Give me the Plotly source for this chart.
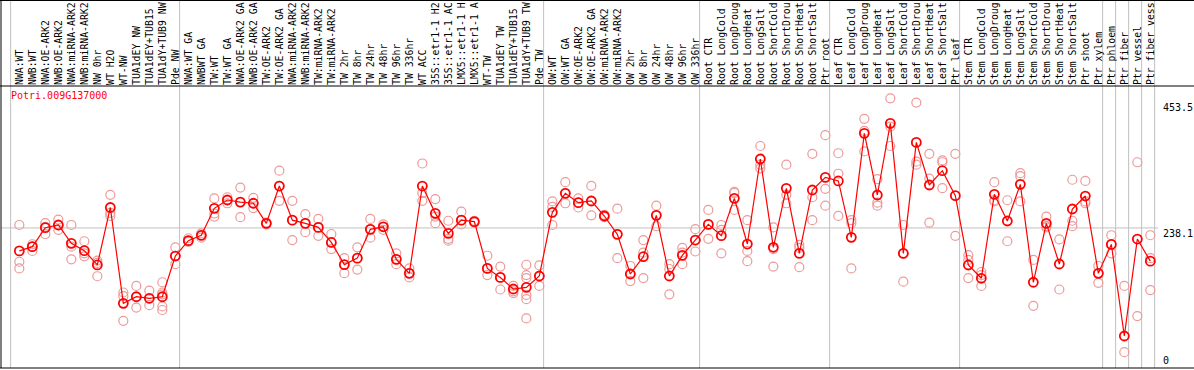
import plotly.graph_objects as go

title = "Potri.009G137000"

categories = [
    "NWA:WT", "NWB:WT", "NWA:OE-ARK2", "NWB:OE-ARK2", "NWA:miRNA-ARK2", "NWB:miRNA-ARK2",
    "NW 0hr", "WT H2O", "WT-NW", "TUA1dEY NW", "TUA1dEY+TUB15", "TUA1dY+TUB9 NW", "Pde NW",
    "NWA:WT GA", "NWBWT GA", "TW:WT", "TW:WT GA", "NWA:OE-ARK2 GA", "NWB:OE-ARK2 GA",
    "TW:OE-ARK2", "TW:OE-ARK2 GA", "NWA:miRNA-ARK2", "NWB:miRNA-ARK2", "TW:miRNA-ARK2",
    "TW:miRNA-ARK2", "TW 2hr", "TW 8hr", "TW 24hr", "TW 48hr", "TW 96hr", "TW 336hr",
    "WT ACC", "35S::etr1-1 H2", "35S::etr1-1 AC", "LMX5::etr1-1 H", "LMX5::etr1-1 A",
    "WT-TW", "TUA1dEY TW", "TUA1dEY+TUB15", "TUA1dY+TUB9 TW", "Pde TW",
    "OW:WT", "OW:WT GA", "OW:OE-ARK2", "OW:OE-ARK2 GA", "OW:miRNA-ARK2", "OW:miRNA-ARK2",
    "OW 2hr", "OW 8hr", "OW 24hr", "OW 48hr", "OW 96hr", "OW 336hr",
    "Root CTR", "Root LongCold", "Root LongDroug", "Root LongHeat", "Root LongSalt",
    "Root ShortCold", "Root ShortDrou", "Root ShortHeat", "Root ShortSalt", "Ptr root",
    "Leaf CTR", "Leaf LongCold", "Leaf LongDroug", "Leaf LongHeat", "Leaf LongSalt",
    "Leaf ShortCold", "Leaf ShortDrou", "Leaf ShortHeat", "Leaf ShortSalt", "Ptr leaf",
    "Stem CTR", "Stem LongCold", "Stem LongDroug", "Stem LongHeat", "Stem LongSalt",
    "Stem ShortCold", "Stem ShortDrou", "Stem ShortHeat", "Stem ShortSalt", "Ptr shoot",
    "Ptr xylem", "Ptr phloem", "Ptr fiber", "Ptr vessel", "Ptr fiber vess",
]

means = [
    200, 207, 238.5, 243, 212.6, 200.4, 176.7, 272, 113, 124, 121.4, 124, 191.5,
    217, 225.8, 270.6, 284.4, 281, 279, 245.7, 307.6, 251, 245.7, 239, 214, 177.2, 188,
    235.8, 240, 186, 162.8, 307.6, 262.3, 229, 251, 248.5, 171, 156, 136.8, 139.6, 158.4,
    264, 295.5, 280, 282.8, 257.9, 227.5, 161.7, 190.4, 259, 158.4, 192.6, 218,
    244, 225.3, 287.2, 211.4, 352.4, 206, 303.8, 196, 301, 322,
    316, 222.5, 395, 292.7, 411.6, 196, 380, 309.3, 333, 291.6,
    176.6, 154.6, 293.8, 249.6, 310.4, 148, 245.7, 178.3, 269.5, 291,
    162.8, 210.8, 58.9, 219.7, 183,
]

replicates = [
    [243, 182, 171], [211, 207, 200], [246, 240, 228], [252, 243, 235], [243, 207, 186],
    [216, 196, 191], [184, 180, 158], [293, 263, 258], [131, 125, 84], [142, 124, 106],
    [134, 121, 110], [148, 131, 128, 108, 102], [206, 192, 178],
    [221, 217, 215], [229, 226, 222], [287, 262, 257], [289, 284, 279], [305, 281, 256],
    [288, 279, 271], [247, 246, 244], [333, 308, 283], [283, 251, 218], [261, 246, 231],
    [253, 239, 225], [228, 214, 203], [188, 177, 163], [206, 188, 169], [253, 236, 222],
    [244, 240, 235], [196, 186, 178], [171, 163, 156], [345, 296, 283], [286, 257, 246],
    [250, 220, 217], [265, 251, 244], [250, 248, 247], [192, 171, 160], [174, 156, 136],
    [142, 133, 130], [177, 160, 155, 127, 120, 88], [176, 158, 142],
    [282, 273, 243], [314, 296, 279], [287, 280, 272], [308, 283, 259], [260, 258, 256],
    [270, 228, 188], [175, 162, 150], [218, 197, 155], [275, 259, 241], [178, 170, 128],
    [205, 197, 178], [236, 218, 199],
    [268, 244, 220], [243, 235, 196], [298, 296, 268], [251, 200, 183], [374, 343, 337],
    [239, 203, 174], [343, 293, 279], [210, 205, 173], [361, 289, 251], [392, 303, 275],
    [362, 328, 258], [251, 246, 171], [419, 399, 365], [319, 280, 275], [453, 406, 374],
    [243, 196, 149], [446, 348, 343], [361, 320, 247], [350, 347, 304], [361, 225],
    [193, 185, 155], [165, 160, 142], [314, 284, 282], [284, 216], [329, 324, 282],
    [185, 109], [257, 241, 239], [219, 136], [318, 250, 241], [316, 282, 279],
    [175, 163, 147], [226, 211, 196], [142, 32, 3], [347, 92], [226, 188, 135],
]

# last category index of each group (0 = before the first)
group_ends = [0, 13, 41, 53, 63, 73, 84, 85, 86, 87, 88]

axis_labels = [453.5, 238.1, 0]

xs = list(range(1, len(categories) + 1))
rep_x, rep_y = [], []
for xi, vals in zip(xs, replicates):
    for v in vals:
        rep_x.append(xi)
        rep_y.append(v)

W, H = 1194, 370
ml, mr, mt, mb = 1, 36, 86, 2
ph = H - mt - mb
pw = W - ml - mr
yr = [5.8, 473.5]

fig = go.Figure()
fig.add_trace(go.Scatter(
    x=rep_x, y=rep_y, mode="markers", cliponaxis=False,
    marker=dict(symbol="circle-open", size=9, color="#ec9a9a", line=dict(width=1.2)),
    hoverinfo="skip", showlegend=False))
fig.add_trace(go.Scatter(
    x=xs, y=means, mode="lines+markers", cliponaxis=False,
    line=dict(color="#ff0000", width=1.2),
    marker=dict(symbol="circle-open", size=9, color="#ff0000", line=dict(width=1.8)),
    showlegend=False))

shapes = []
for k in group_ends:
    shapes.append(dict(type="line", xref="x", yref="paper", x0=k + 0.33, x1=k + 0.33,
                       y0=0, y1=1 + mt / ph, line=dict(color="#c0c0c0", width=1), layer="below"))
shapes.append(dict(type="line", xref="paper", yref="y", x0=0, x1=1.0, y0=axis_labels[1], y1=axis_labels[1],
                   line=dict(color="#c0c0c0", width=1), layer="below"))
top = 1 + (mt - 0.5) / ph
right = (W - ml) / pw
for y in [top, 1.0, 0.0]:
    shapes.append(dict(type="line", xref="paper", yref="paper", x0=-ml / pw, x1=right, y0=y, y1=y,
                       line=dict(color="black", width=1)))
shapes.append(dict(type="line", xref="paper", yref="paper", x0=0, x1=0, y0=0, y1=top,
                   line=dict(color="black", width=1)))

annotations = [dict(xref="paper", yref="paper", x=8 / pw, y=1 - 2 / ph, xanchor="left", yanchor="top",
                    text=title, showarrow=False, font=dict(family="DejaVu Sans Mono", size=10, color="red"))]
for v, anchor, shift in [(axis_labels[0], "top", -2), (axis_labels[1], "top", 2), (axis_labels[2], "bottom", 3)]:
    annotations.append(dict(xref="paper", yref="paper", x=(1161 - ml) / pw,
                            y=(v - yr[0]) / (yr[1] - yr[0]), xanchor="left", yanchor=anchor,
                            yshift=shift, text=str(v) if v else "0", showarrow=False,
                            font=dict(family="DejaVu Sans Mono", size=10, color="black")))

fig.update_layout(
    width=W, height=H, margin=dict(l=ml, r=mr, t=mt, b=mb, pad=0),
    paper_bgcolor="white", plot_bgcolor="white",
    xaxis=dict(range=[-0.41, 88.59], side="top", tickmode="array", tickvals=xs, ticktext=categories,
               tickangle=-90, showgrid=False, zeroline=False, showline=False, ticks="",
               tickfont=dict(family="DejaVu Sans Mono", size=9.8, color="black"), automargin=False),
    yaxis=dict(range=yr, showgrid=False, zeroline=False, showticklabels=False,
               showline=False, automargin=False),
    shapes=shapes, annotations=annotations,
)

fig.write_html("out.html", config={"displayModeBar": False},
               post_script="document.body.style.margin='0px';")
